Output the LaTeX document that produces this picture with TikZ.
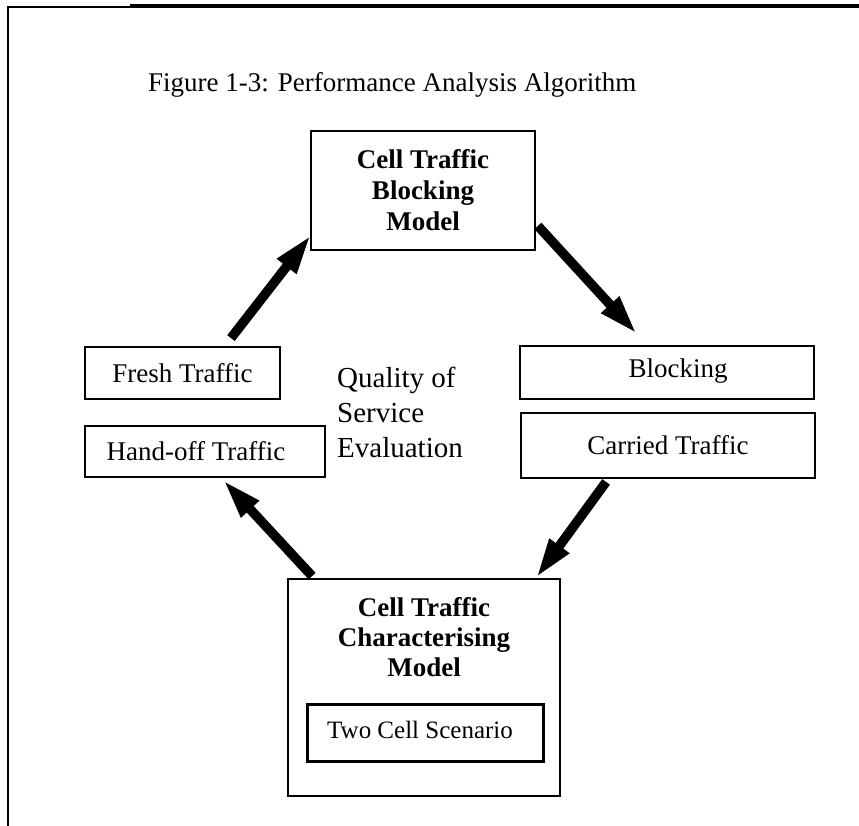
\documentclass[tikz,border=0pt]{standalone}
\usepackage{fontspec}
\setmainfont{Liberation Serif}
\usetikzlibrary{arrows.meta,calc}
\begin{document}
\begin{tikzpicture}[x=1pt,y=-1pt,
  box/.style={draw,line width=1.8pt,inner sep=0pt,align=center},
  plain/.style={inner sep=0pt,font=\fontsize{27}{31}\selectfont},
  heavy/.style={inner sep=0pt,align=center,font=\bfseries\fontsize{27}{31}\selectfont},
  flow/.style={line width=9.5pt,-{Triangle[length=40pt,width=22pt]}}]
\useasboundingbox (0,0) rectangle (859,826);

% frame of the page
\draw[line width=2pt] (8,826) -- (8,7) -- (130,7);
\draw[line width=3.5pt] (130,6) -- (859,6);

% caption
\node[plain,anchor=base west] (caption) at (148,92) {Figure 1-3: Performance Analysis Algorithm};

% blocking model
\node[box,heavy,minimum width=224pt,minimum height=119pt] (blockmodel) at (423,190.5)
  {Cell Traffic\\Blocking\\Model};

% inputs on the left
\node[box,plain,minimum width=195pt,minimum height=52pt] (fresh) at (182.5,373) {Fresh Traffic};
\node[box,minimum width=240pt,minimum height=51pt] (handoff) at (205,451.5) {};
\node[plain] (handofftext) at (196,451) {Hand-off Traffic};

% outputs on the right
\node[box,minimum width=294pt,minimum height=53pt] (blocking) at (667,372.5) {};
\node[plain] (blockingtext) at (678,371) {Blocking};
\node[box,plain,minimum width=294pt,minimum height=65pt] (carried) at (668,445.5) {Carried Traffic};

% centre label
\node[inner sep=0pt,align=left,anchor=west,font=\fontsize{29}{35}\selectfont] (qos) at (337,412)
  {Quality of\\Service\\Evaluation};

% characterising model
\node[box,minimum width=272pt,minimum height=217pt] (charbox) at (424,687.5) {};
\node[heavy,font=\bfseries\fontsize{27}{30}\selectfont] (chartext) at (424,637) {Cell Traffic\\Characterising\\Model};
\node[draw,line width=3pt,minimum width=236pt,minimum height=57pt,inner sep=0pt] (scenario) at (425,732.5) {};
\node[inner sep=0pt,font=\fontsize{25}{30}\selectfont] (scenariotext) at (420,730) {Two Cell Scenario};

% the loop of thick arrows
\coordinate (t1) at ($(fresh.north)+(48.5,-8)$);
\draw[flow] (t1) -- ($(blockmodel.south west)+(1,-16)$);
\coordinate (t2) at ($(blockmodel.south east)+(2,-25)$);
\draw[flow] (t2) -- ($(blocking.north west)+(118,-11)$);
\coordinate (t3) at ($(carried.south west)+(86,3)$);
\draw[flow] (t3) -- ($(charbox.north east)+(-25,0)$);
\coordinate (t4) at ($(charbox.north west)+(25,-2)$);
\draw[flow] (t4) -- ($(handoff.south)+(18,2)$);
\end{tikzpicture}
\end{document}
